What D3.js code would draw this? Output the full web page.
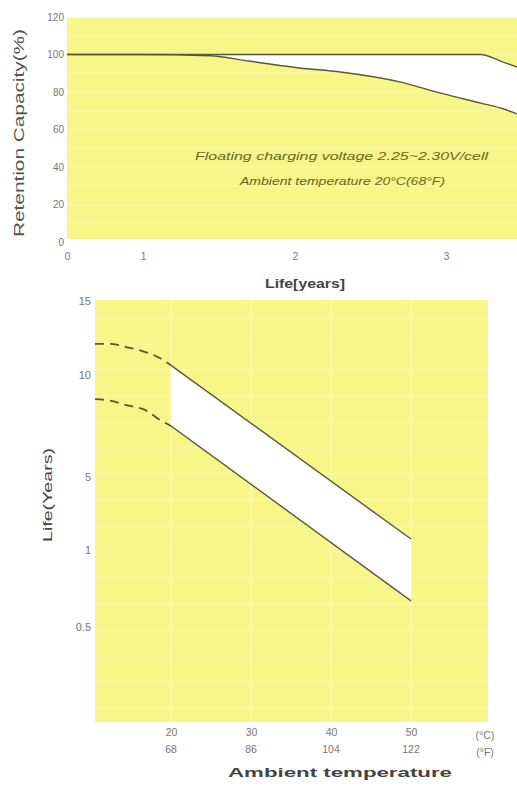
<!DOCTYPE html>
<html>
<head>
<meta charset="utf-8">
<script src="https://cdn.jsdelivr.net/npm/d3@7/dist/d3.min.js"></script>
<style>
  body { margin: 0; background: #fff; }
  svg { display: block; }
  text { font-family: "Liberation Sans", Arial, sans-serif; }
</style>
</head>
<body>
<script>
// ---- top chart data: retention capacity vs life ----
const yearTicks = [0, 1, 2, 3];
const capTicks = [0, 20, 40, 60, 80, 100, 120];
const lifeYears = [0, 1, 1.44, 1.7, 2.03, 2.3, 2.7, 2.96, 3.23, 3.36, 3.47];
const upperCap = [100, 100, 100, 100, 100, 100, 100, 100, 100, 96.5, 93.3];
const lowerCap = [100, 100, 99.3, 96.5, 92.8, 90.7, 85.3, 79.5, 74.1, 71.5, 68.3];

// ---- bottom chart data: life vs ambient temperature ----
const tempC = [20, 30, 40, 50];
const tempF = [68, 86, 104, 122];
const lifeTicks = [0.5, 1, 5, 10, 15];
const tempDash = [10.5, 12.4, 14.3, 16.8, 18.6, 20];
const upperDash = [12.1, 12.1, 11.9, 11.55, 11.15, 10.65];
const lowerDash = [8.82, 8.74, 8.53, 8.28, 7.8, 7.5];
const tempSolid = [20, 50];
const upperSolid = [10.65, 1.6];
const lowerSolid = [7.5, 0.67];

const W = 517, H = 789;
const yellow = "#f8f689";
const lineCol = "#5a583a";

const svg = d3.select("body").append("svg").attr("width", W).attr("height", H);

// ================= top chart =================
// the year axis is uneven in the original (0-1 is half of 1-2)
const x1 = d3.scaleLinear().domain([0, 1, 2, 3]).range([67, 143, 295, 446]);
const y1 = d3.scaleLinear().domain([0, 120]).range([242, 17]);

const topG = svg.append("g");
topG.append("rect").attr("x", 67).attr("y", 18).attr("width", W - 67).attr("height", 221).attr("fill", yellow);

// faint lighter grid bands
topG.selectAll("line.grid").data(d3.range(10, 120, 10)).join("line")
  .attr("x1", 67).attr("x2", W)
  .attr("y1", d => y1(d)).attr("y2", d => y1(d))
  .attr("stroke", "#fff").attr("stroke-opacity", 0.25).attr("stroke-width", 1.5);

const topPts = lifeYears.map((t, i) => ({ t, hi: upperCap[i], lo: lowerCap[i] }));
topG.append("path").datum(topPts)
  .attr("d", d3.area().x(d => x1(d.t)).y0(d => y1(d.lo)).y1(d => y1(d.hi)).curve(d3.curveMonotoneX))
  .attr("fill", "#fff");
topG.append("path").datum(topPts)
  .attr("d", d3.line().x(d => x1(d.t)).y(d => y1(d.hi)).curve(d3.curveMonotoneX))
  .attr("fill", "none").attr("stroke", lineCol).attr("stroke-width", 1.4);
topG.append("path").datum(topPts)
  .attr("d", d3.line().x(d => x1(d.t)).y(d => y1(d.lo)).curve(d3.curveMonotoneX))
  .attr("fill", "none").attr("stroke", lineCol).attr("stroke-width", 1.4);

// axes (no domain / tick marks visible, labels only)
const yAxTop = d3.axisLeft(y1).tickValues(capTicks).tickSize(0).tickPadding(2);
topG.append("g").attr("transform", "translate(66,0)").call(yAxTop)
  .call(g => g.select(".domain").remove())
  .selectAll("text").attr("font-size", 10).attr("fill", "#777");
const xAxTop = d3.axisBottom(x1).tickValues(yearTicks).tickFormat(d3.format("d"))
  .tickSize(0).tickPadding(0);
topG.append("g").attr("transform", "translate(0,253)").call(xAxTop)
  .call(g => g.select(".domain").remove())
  .selectAll("text").attr("font-size", 10).attr("fill", "#777");

topG.append("text").attr("transform", "translate(24,133) rotate(-90)")
  .attr("text-anchor", "middle").attr("font-size", 15).attr("fill", "#555")
  .attr("textLength", 208).attr("lengthAdjust", "spacingAndGlyphs")
  .text("Retention  Capacity(%)");
topG.append("text").attr("x", 305).attr("y", 288).attr("text-anchor", "middle")
  .attr("font-size", 12).attr("font-weight", "bold").attr("fill", "#444")
  .attr("textLength", 80).attr("lengthAdjust", "spacingAndGlyphs")
  .text("Life[years]");

topG.append("text").attr("x", 195).attr("y", 160).attr("font-size", 11).attr("fill", "#6a6620")
  .attr("font-style", "italic").attr("textLength", 293).attr("lengthAdjust", "spacingAndGlyphs")
  .text("Floating charging voltage 2.25~2.30V/cell");
topG.append("text").attr("x", 240).attr("y", 185).attr("font-size", 11).attr("fill", "#6a6620")
  .attr("font-style", "italic").attr("textLength", 205).attr("lengthAdjust", "spacingAndGlyphs")
  .text("Ambient temperature 20°C(68°F)");

// ================= bottom chart =================
const x2 = d3.scaleLinear().domain([20, 50]).range([171, 411]);
// uneven life axis as printed
const y2 = d3.scaleLinear().domain([0.5, 1, 5, 10, 15]).range([627, 550, 477, 375, 301]);

const bot = svg.append("g");
bot.append("rect").attr("x", 95).attr("y", 300).attr("width", 393).attr("height", 422).attr("fill", yellow);

bot.selectAll("line.vgrid").data(tempC).join("line")
  .attr("x1", d => x2(d)).attr("x2", d => x2(d)).attr("y1", 300).attr("y2", 722)
  .attr("stroke", "#fff").attr("stroke-opacity", 0.35).attr("stroke-width", 1.5);
bot.selectAll("line.hgrid").data(d3.range(318, 722, 26)).join("line")
  .attr("x1", 95).attr("x2", 488).attr("y1", d => d).attr("y2", d => d)
  .attr("stroke", "#fff").attr("stroke-opacity", 0.25).attr("stroke-width", 1.5);

const solidPts = tempSolid.map((t, i) => ({ t, hi: upperSolid[i], lo: lowerSolid[i] }));
bot.append("path").datum(solidPts)
  .attr("d", d3.area().x(d => x2(d.t)).y0(d => y2(d.lo)).y1(d => y2(d.hi)))
  .attr("fill", "#fff");

const solidLine = d3.line().x(d => x2(d[0])).y(d => y2(d[1]));
[upperSolid, lowerSolid].forEach(vals => {
  bot.append("path").datum(tempSolid.map((t, i) => [t, vals[i]]))
    .attr("d", solidLine).attr("fill", "none").attr("stroke", lineCol).attr("stroke-width", 1.4);
});
const dashLine = d3.line().x(d => x2(d[0])).y(d => y2(d[1])).curve(d3.curveMonotoneX);
[upperDash, lowerDash].forEach(vals => {
  bot.append("path").datum(tempDash.map((t, i) => [t, vals[i]]))
    .attr("d", dashLine).attr("fill", "none").attr("stroke", lineCol)
    .attr("stroke-width", 1.8).attr("stroke-dasharray", "9,6");
});

const yAxBot = d3.axisLeft(y2).tickValues(lifeTicks).tickSize(0).tickPadding(0)
  .tickFormat(d => d);
bot.append("g").attr("transform", "translate(91,0)").call(yAxBot)
  .call(g => g.select(".domain").remove())
  .selectAll("text").attr("font-size", 11).attr("fill", "#777");

const xAxC = d3.axisBottom(x2).tickValues(tempC).tickSize(0).tickPadding(0);
bot.append("g").attr("transform", "translate(0,729)").call(xAxC)
  .call(g => g.select(".domain").remove())
  .selectAll("text").attr("font-size", 10.5).attr("fill", "#777");
bot.append("g").attr("transform", "translate(0,746)")
  .selectAll("text").data(tempF).join("text")
  .attr("x", (d, i) => x2(tempC[i])).attr("text-anchor", "middle").attr("dy", "0.71em")
  .attr("font-size", 10.5).attr("fill", "#777").text(d => d);
bot.append("text").attr("x", 485).attr("y", 739).attr("text-anchor", "middle")
  .attr("font-size", 10.5).attr("fill", "#777").text("(°C)");
bot.append("text").attr("x", 485).attr("y", 756).attr("text-anchor", "middle")
  .attr("font-size", 10.5).attr("fill", "#777").text("(°F)");

bot.append("text").attr("x", 340).attr("y", 777).attr("text-anchor", "middle")
  .attr("font-size", 13).attr("font-weight", "bold").attr("fill", "#444")
  .attr("textLength", 224).attr("lengthAdjust", "spacingAndGlyphs")
  .text("Ambient  temperature");
bot.append("text").attr("transform", "translate(52,495) rotate(-90)")
  .attr("text-anchor", "middle").attr("font-size", 13).attr("fill", "#444")
  .attr("textLength", 94).attr("lengthAdjust", "spacingAndGlyphs")
  .text("Life(Years)");
</script>
</body>
</html>
